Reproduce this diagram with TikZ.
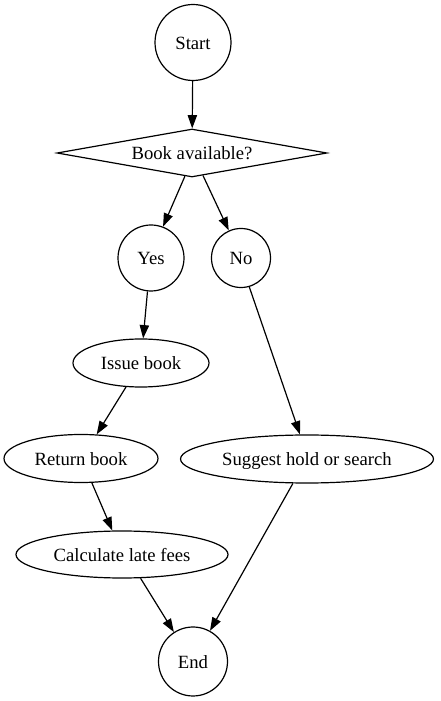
\documentclass[tikz,border=0pt]{standalone}
\usepackage{fontspec}
\setmainfont{Liberation Serif}
\usetikzlibrary{shapes.geometric,arrows.meta}
\begin{document}
\begin{tikzpicture}[x=0.75pt,y=0.75pt,
  every node/.style={font=\fontsize{14pt}{16pt}\selectfont, inner sep=0pt, line width=0.9pt, text height=9.8pt, text depth=0pt},
  circ/.style={draw, circle},
  ell/.style={draw, ellipse, minimum height=36pt},
  dia/.style={draw, diamond, aspect=5.6, minimum width=202.5pt, minimum height=36pt},
  edge/.style={draw, line width=0.9pt, -{Triangle[length=10pt,width=7pt]}}]
\useasboundingbox (0,0) rectangle (440,701);
\node[circ, minimum size=57pt] (start) at (193,658.5) {Start};
\node[dia] (book) at (192,548) {Book available?};
\node[circ, minimum size=49.5pt] (yes) at (151,443) {Yes};
\node[circ, minimum size=44.25pt] (no) at (241,443) {No};
\node[ell, minimum width=102pt] (issue) at (141,338) {Issue book};
\node[ell, minimum width=115.5pt] (return) at (81,242.5) {Return book};
\node[ell, minimum width=189.75pt] (suggest) at (307,242) {Suggest hold or search};
\node[ell, minimum width=159pt, minimum height=35.25pt] (calc) at (122,146.5) {Calculate late fees};
\node[circ, minimum size=51.75pt] (end) at (193,39.5) {End};
\path[edge] (start) -- (book);
\path[edge] (book.-107) -- (yes.69);
\path[edge] (book.-64) -- (no.114);
\path[edge] (yes.-96) -- (issue.85);
\path[edge] (issue.-122) -- (return.57);
\path[edge] (return.-66) -- (calc.112);
\path[edge] (calc.-52.5) -- (end.123);
\path[edge] (no.-74) -- (suggest.106);
\path[edge] (suggest.-120) -- (end.61.6);
\end{tikzpicture}
\end{document}
